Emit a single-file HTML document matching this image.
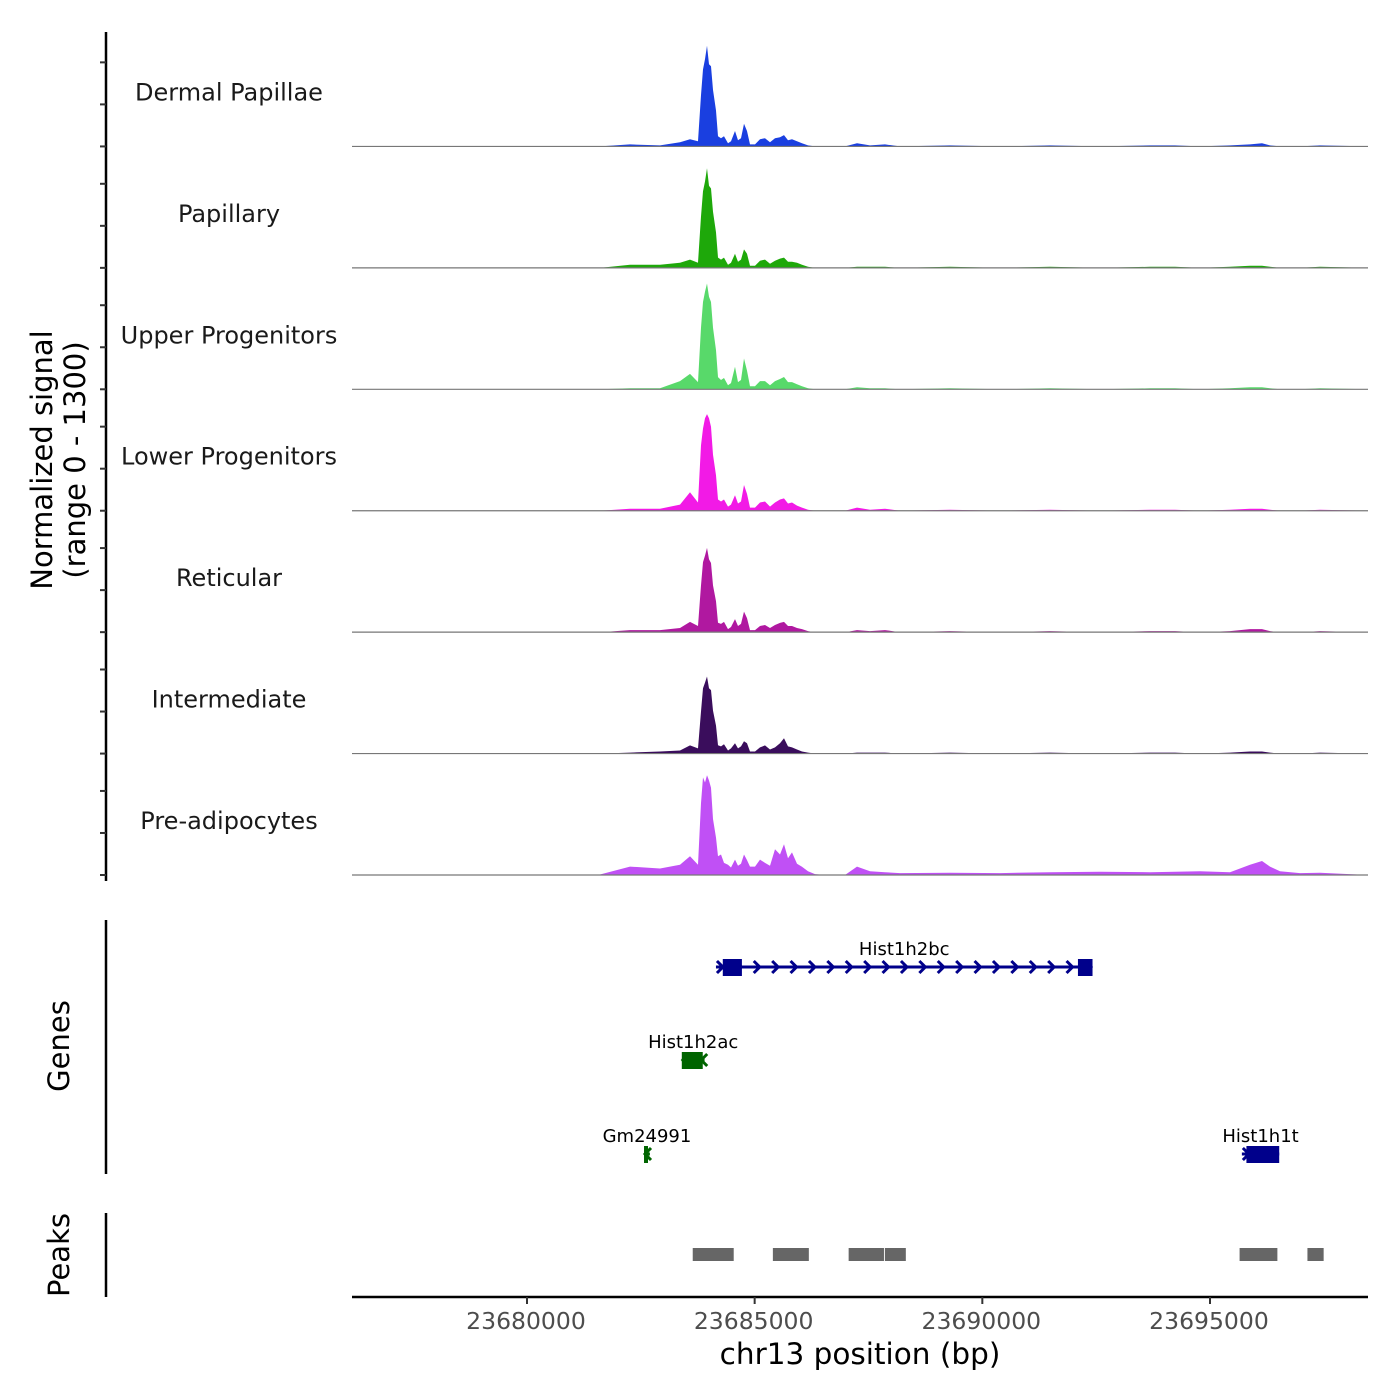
<!DOCTYPE html>
<html><head><meta charset="utf-8"><style>
html,body{margin:0;padding:0;background:#fff;}
svg{display:block;font-family:"DejaVu Sans","Liberation Sans",sans-serif;}
</style></head><body>
<svg id="chart" width="1400" height="1400" viewBox="0 0 1400 1400"></svg>
<script>
// ---- data ----
const positions = [23676157,23681603,23682262,23682921,23683360,23683580,23683755,23683821,23683865,23683909,23683953,23683997,23684041,23684085,23684151,23684195,23684260,23684326,23684414,23684480,23684568,23684634,23684700,23684766,23684831,23684897,23685007,23685117,23685227,23685336,23685446,23685556,23685644,23685732,23685820,23685929,23686039,23686171,23686325,23686544,23686984,23687247,23687533,23687862,23688192,23689290,23690388,23691486,23692584,23693682,23694232,23694781,23695439,23695879,23696142,23696318,23696538,23696977,23697416,23698470];
const tracks = ["Dermal Papillae","Papillary","Upper Progenitors","Lower Progenitors","Reticular","Intermediate","Pre-adipocytes"];
const colors = ["#1a3fe0","#1ea80a","#58d96a","#f21ae6","#b018a0","#3a0d5c","#c050f5"];
const sigDP  = [0,0,22,11,44,77,55,550,825,935,1078,880,858,605,385,110,88,110,33,55,165,66,88,242,165,22,22,77,88,44,88,99,121,66,77,55,33,11,0,0,0,33,11,22,0,11,0,11,0,11,11,0,11,22,33,11,0,0,11,0];
const sigPap = [0,0,33,33,55,88,55,550,820,925,1067,880,850,600,380,110,88,110,33,55,150,66,88,198,150,22,22,77,88,44,77,99,110,66,66,55,33,11,0,0,0,11,11,11,0,11,0,11,0,11,11,0,11,22,22,11,0,0,11,0];
const sigUP  = [0,0,11,11,88,165,77,660,935,1045,1133,990,935,660,420,130,99,121,44,66,242,77,99,330,200,33,33,88,88,44,88,110,132,77,77,55,33,11,0,0,0,22,11,11,0,11,0,11,0,11,11,0,11,22,22,11,0,0,11,0];
const sigLP  = [0,0,22,22,66,198,88,700,880,990,1034,990,900,600,380,120,99,120,44,66,165,77,99,275,180,33,33,88,99,44,88,120,132,77,88,55,33,11,0,0,0,33,11,22,0,11,0,11,0,11,11,0,11,22,22,11,0,0,11,0];
const sigRet = [0,0,22,22,44,110,66,500,750,820,902,780,740,500,330,100,88,110,33,55,140,66,88,220,150,22,22,66,77,44,77,99,110,66,66,44,33,11,0,0,0,22,11,22,0,11,0,11,0,11,11,0,11,33,33,11,0,0,11,0];
const sigInt = [0,0,11,22,33,88,55,450,700,760,825,700,680,460,300,90,77,99,33,55,110,55,77,132,110,22,22,66,88,44,66,110,165,77,66,44,22,11,0,0,0,11,11,11,0,11,0,11,0,11,11,0,11,22,22,11,0,0,11,0];
const sigPre = [0,5,90,70,110,200,110,770,1045,990,1067,1012,935,600,400,200,220,130,110,80,165,100,120,220,160,90,90,165,130,100,275,220,330,180,242,120,88,40,10,0,0,90,40,30,20,25,20,30,35,30,35,40,30,110,150,90,40,20,25,0];
const signals = [sigDP,sigPap,sigUP,sigLP,sigRet,sigInt,sigPre];
const yTickVals = [0,450,900];
const xTicks = [23680000,23685000,23690000,23695000];
const genes = [
 {name:"Hist1h2bc",start:23684150,end:23692420,row:0,color:"#00008b",strand:1,exons:[[23684300,23684720],[23692100,23692420]]},
 {name:"Hist1h2ac",start:23683400,end:23683900,row:1,color:"#006400",strand:-1,exons:[[23683400,23683860]]},
 {name:"Gm24991",start:23682570,end:23682700,row:2,color:"#006400",strand:-1,exons:[[23682570,23682640]]},
 {name:"Hist1h1t",start:23695700,end:23696520,row:2,color:"#00008b",strand:1,exons:[[23695800,23696520]]}
];
const peakStarts = [23683640,23685400,23687064,23687860,23695650,23697140];
const peakEnds   = [23684540,23686190,23687840,23688320,23696480,23697496];

// ---- scales ----
const X0=352,X1=1368, BP0=23676157, BP1=23698470;
const xs = bp => X0 + (bp-BP0)/(BP1-BP0)*(X1-X0);
const PTOP=25, PH=121.43, YMAX=1300;
const ys = (i,v) => PTOP+(i+1)*PH - v/YMAX*PH;
const NS="http://www.w3.org/2000/svg";
const svg=document.getElementById('chart');
function mk(tag,attrs,parent){const e=document.createElementNS(NS,tag);for(const k in attrs)e.setAttribute(k,attrs[k]);(parent||svg).appendChild(e);return e;}

let ax=mk('line',{x1:106,y1:32,x2:106,y2:881,stroke:'#000','stroke-width':2.5});


for(let i=0;i<tracks.length;i++){
  yTickVals.forEach(v=>{
    const t=mk('line',{x1:100,x2:106,y1:ys(i,v),y2:ys(i,v),stroke:'#333','stroke-width':2});
    
    
  });
}
let yt=mk('text',{transform:'translate(52,460) rotate(-90)','text-anchor':'middle','font-size':29,fill:'#000'});


yt.textContent='Normalized signal';
let yt2=mk('text',{transform:'translate(85,460) rotate(-90)','text-anchor':'middle','font-size':29,fill:'#000'});


yt2.textContent='(range 0 - 1300)';

for(let i=0;i<tracks.length;i++){
  const base=ys(i,0);
  let d='M'+xs(positions[0])+','+base;
  for(let j=0;j<positions.length;j++) d+=' L'+xs(positions[j]).toFixed(1)+','+ys(i,signals[i][j]).toFixed(1);
  d+=' L'+xs(positions[positions.length-1])+','+base+' Z';
  const p=mk('path',{d:d,fill:colors[i],stroke:'none'});
  
  
  const bl=mk('line',{x1:X0,x2:X1,y1:base,y2:base,stroke:'#777','stroke-width':1.2});
  
  
  const lab=mk('text',{x:229,y:base-46,'text-anchor':'middle','font-size':24,fill:'#1a1a1a'});
  
  
  lab.textContent=tracks[i];
}

let ga=mk('line',{x1:106,y1:920,x2:106,y2:1174,stroke:'#000','stroke-width':2.5});


let gt=mk('text',{transform:'translate(69,1046) rotate(-90)','text-anchor':'middle','font-size':29,fill:'#000'});


gt.textContent='Genes';
const rowY=[967,1060,1154];
genes.forEach(g=>{
  const y=rowY[g.row], grp=mk('g',{});
  
  
  mk('line',{x1:xs(g.start),x2:xs(g.end),y1:y,y2:y,stroke:g.color,'stroke-width':3},grp);
  const x0=xs(g.start),x1=xs(g.end);
  for(let x=x0+4;x<=x1;x+=18.4){
    const s=g.strand;
    mk('polyline',{points:(x-3*s)+','+(y-6)+' '+(x+3*s)+','+y+' '+(x-3*s)+','+(y+6),fill:'none',stroke:g.color,'stroke-width':3},grp);
  }
  g.exons.forEach(e=>mk('rect',{x:xs(e[0]),y:y-8,width:Math.max(4,xs(e[1])-xs(e[0])),height:17,fill:g.color},grp));
  const t=mk('text',{x:(x0+x1)/2,y:y-12,'text-anchor':'middle','font-size':18,fill:'#000'},grp);
  t.textContent=g.name;
});

let pa=mk('line',{x1:106,y1:1213,x2:106,y2:1297,stroke:'#000','stroke-width':2.5});


let pt=mk('text',{transform:'translate(69,1255) rotate(-90)','text-anchor':'middle','font-size':29,fill:'#000'});


pt.textContent='Peaks';
for(let k=0;k<peakStarts.length;k++){
  const r=mk('rect',{x:xs(peakStarts[k]),y:1248,width:xs(peakEnds[k])-xs(peakStarts[k]),height:13,fill:'#666'});
  
  
}

let xa=mk('line',{x1:X0,x2:X1,y1:1297,y2:1297,stroke:'#000','stroke-width':2.5});


xTicks.forEach(v=>{
  const tk=mk('line',{x1:xs(v),x2:xs(v),y1:1297,y2:1304,stroke:'#333','stroke-width':2});
  
  
  const tl=mk('text',{x:xs(v)-1,y:1329,'text-anchor':'middle','font-size':23.5,fill:'#4d4d4d'});
  
  
  tl.textContent=v;
});
let xt=mk('text',{x:860,y:1364,'text-anchor':'middle','font-size':29.5,fill:'#000'});


xt.textContent='chr13 position (bp)';
</script>
</body></html>
